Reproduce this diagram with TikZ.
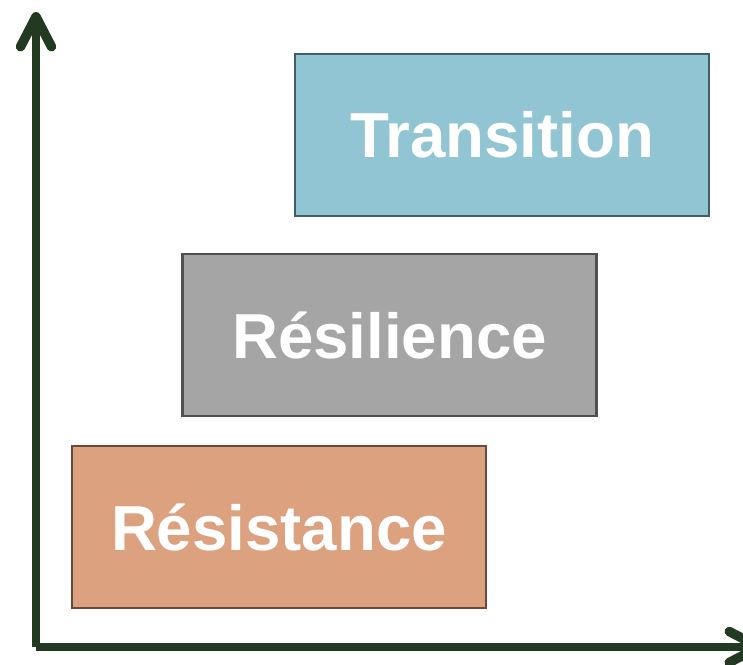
\documentclass[tikz,border=0pt]{standalone}
\usepackage{fontspec}
\setmainfont{Liberation Sans}
\usetikzlibrary{arrows.meta}
\usetikzlibrary{positioning}
\definecolor{axisgreen}{HTML}{233A22}
\definecolor{transblue}{HTML}{92C5D3}
\definecolor{transedge}{HTML}{3E5F68}
\definecolor{resilgray}{HTML}{A5A5A5}
\definecolor{resiledge}{HTML}{505050}
\definecolor{resistorange}{HTML}{DCA17F}
\definecolor{resistedge}{HTML}{6A4B3A}

\begin{document}
\begin{tikzpicture}[
	x=0.02cm, y=-0.02cm,
  axis/.style = {draw=axisgreen,line width=0.16cm,line cap=butt,-{Straight Barb[length=0.6cm,width=0.62cm,round,line width=0.19cm]}},
  level/.style = {draw,line width=0.05cm,minimum width=8.29cm,minimum height=3.24cm,inner sep=0pt,
	text=white,font=\fontsize{36.2}{37}\selectfont\bfseries}
  ]
	\useasboundingbox (0,0) rectangle (743,664);

	\coordinate (@origin) at (36,647);
	\coordinate (@top) at (36,12);
	\coordinate (@right) at (764,647);

	\node[level,fill=transblue,draw=transedge] (transition) at (502,135) {Transition};
	\node[level,fill=resilgray,draw=resiledge] (resilience) at (389.5,335) {\raisebox{-1pt}{Résilience}};
	\node[level,fill=resistorange,draw=resistedge] (resistance) at (279,527) {Résistance};

	\draw[axis] (@origin) to (@top);
	\draw[axis] (@origin) to (@right);

\end{tikzpicture}
\end{document}
